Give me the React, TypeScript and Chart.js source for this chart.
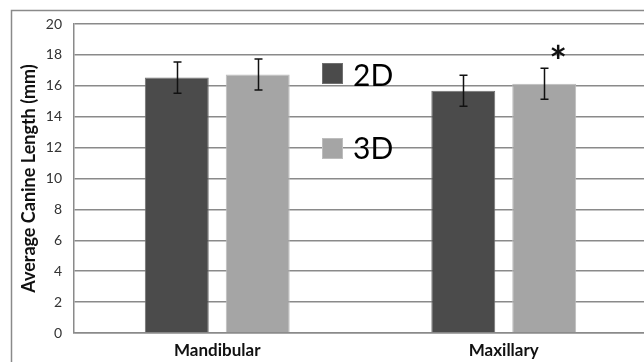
import React, { useEffect, useRef } from "react";
import { Chart, registerables } from "chart.js";

Chart.register(...registerables);

const categories = ["Mandibular", "Maxillary"];
const seriesLabels = ["2D", "3D"];
const values2D = [16.53, 15.68];
const values3D = [16.73, 16.13];
const errors2D = [1.01, 1.0];
const errors3D = [1.0, 1.0];
const marks2D = ["", ""];
const marks3D = ["", "*"];
const yTicks = [0, 2, 4, 6, 8, 10, 12, 14, 16, 18, 20];

const FONT = "Lato, 'Open Sans', sans-serif";
const DARK = "#4b4b4b";
const LIGHT = "#a5a5a5";
const GRID = "#8a8a8a";

const errorsBySeries = [errors2D, errors3D];
const marksBySeries = [marks2D, marks3D];

const framePlugin = {
  id: "frame",
  beforeDraw(chart: any) {
    const { ctx, width, height } = chart;
    ctx.save();
    ctx.fillStyle = "#ffffff";
    ctx.fillRect(0, 0, width, height);
    ctx.strokeStyle = GRID;
    ctx.lineWidth = 1.5;
    ctx.strokeRect(11.5, 10.5, width + 50, height + 50);
    ctx.restore();
  },
};

const errorBarPlugin = {
  id: "errorBars",
  afterDatasetsDraw(chart: any) {
    const { ctx } = chart;
    const yScale = chart.scales.y;
    ctx.save();
    chart.data.datasets.forEach((ds: any, di: number) => {
      const meta = chart.getDatasetMeta(di);
      meta.data.forEach((bar: any, i: number) => {
        const v = ds.data[i];
        const e = errorsBySeries[di][i];
        const x = Math.round(bar.x) + 0.5;
        const yT = yScale.getPixelForValue(v + e);
        const yB = yScale.getPixelForValue(v - e);
        ctx.strokeStyle = "#111111";
        ctx.lineWidth = 1.5;
        ctx.beginPath();
        ctx.moveTo(x, yT);
        ctx.lineTo(x, yB);
        ctx.moveTo(x - 4, yT);
        ctx.lineTo(x + 4, yT);
        ctx.moveTo(x - 4, yB);
        ctx.lineTo(x + 4, yB);
        ctx.stroke();
        const mark = marksBySeries[di][i];
        if (mark) {
          ctx.fillStyle = "#111111";
          ctx.font = `bold 42px ${FONT}`;
          ctx.textAlign = "center";
          ctx.textBaseline = "alphabetic";
          ctx.fillText(mark, bar.x + 14, yT + 9);
        }
      });
    });
    ctx.restore();
  },
};

const legendPlugin = {
  id: "customLegend",
  afterDatasetsDraw(chart: any) {
    const { ctx, chartArea } = chart;
    const rows = [
      { top: 63, text: 65 },
      { top: 138, text: 138 },
    ];
    ctx.save();
    chart.data.datasets.forEach((ds: any, di: number) => {
      const r = rows[di];
      const x = chartArea.left + 248;
      ctx.fillStyle = ds.backgroundColor;
      ctx.fillRect(x, r.top, 21, 21);
      ctx.strokeStyle = ds.borderColor;
      ctx.lineWidth = 1;
      ctx.strokeRect(x + 0.5, r.top + 0.5, 20, 20);
      ctx.fillStyle = "#000000";
      ctx.font = `30px ${FONT}`;
      ctx.textAlign = "left";
      ctx.textBaseline = "alphabetic";
      ctx.fillText(ds.label, x + 31, r.text + 21);
    });
    ctx.restore();
  },
};

export default function App() {
  const ref = useRef<HTMLCanvasElement | null>(null);

  useEffect(() => {
    if (!ref.current) return;
    const chart = new Chart(ref.current, {
      type: "bar",
      data: {
        labels: categories,
        datasets: [
          {
            label: seriesLabels[0],
            data: values2D,
            backgroundColor: DARK,
            borderColor: "#707070",
            borderWidth: 1,
            categoryPercentage: 0.565,
            barPercentage: 0.79,
          },
          {
            label: seriesLabels[1],
            data: values3D,
            backgroundColor: LIGHT,
            borderColor: "#bdbdbd",
            borderWidth: 1,
            categoryPercentage: 0.565,
            barPercentage: 0.79,
          },
        ],
      },
      options: {
        responsive: false,
        animation: false,
        devicePixelRatio: 1,
        layout: { padding: { left: 18.2, top: 24, right: 13, bottom: 0 } },
        plugins: {
          legend: { display: false },
          tooltip: { enabled: false },
        },
        scales: {
          x: {
            grid: { display: false, drawTicks: false },
            border: { display: true, color: GRID, width: 1.5 },
            ticks: {
              padding: 7,
              color: "#111111",
              font: { family: FONT, size: 17, weight: "bold" },
            },
            afterFit(scale: any) {
              scale.height = 29;
            },
          },
          y: {
            min: 0,
            max: 20,
            afterBuildTicks(scale: any) {
              scale.ticks = yTicks.map((v) => ({ value: v }));
            },
            grid: { color: GRID, lineWidth: 1.5, drawTicks: false },
            border: { display: true, color: GRID, width: 1.5 },
            ticks: {
              padding: 12,
              color: "#333333",
              font: { family: FONT, size: 14 },
            },
            title: {
              display: true,
              text: "Average Canine Length (mm)",
              color: "#111111",
              padding: { top: 0, bottom: 0 },
              font: { family: FONT, size: 18, weight: "bold" },
            },
            afterFit(scale: any) {
              scale.width = 55.8;
            },
          },
        },
      },
      plugins: [framePlugin, errorBarPlugin, legendPlugin],
    });
    return () => chart.destroy();
  }, []);

  return (
    <div
      style={{
        position: "fixed",
        left: 0,
        top: 0,
        width: 644,
        height: 362,
        overflow: "hidden",
        background: "#ffffff",
      }}
    >
      <canvas ref={ref} width={660} height={362} style={{ display: "block" }} />
    </div>
  );
}
